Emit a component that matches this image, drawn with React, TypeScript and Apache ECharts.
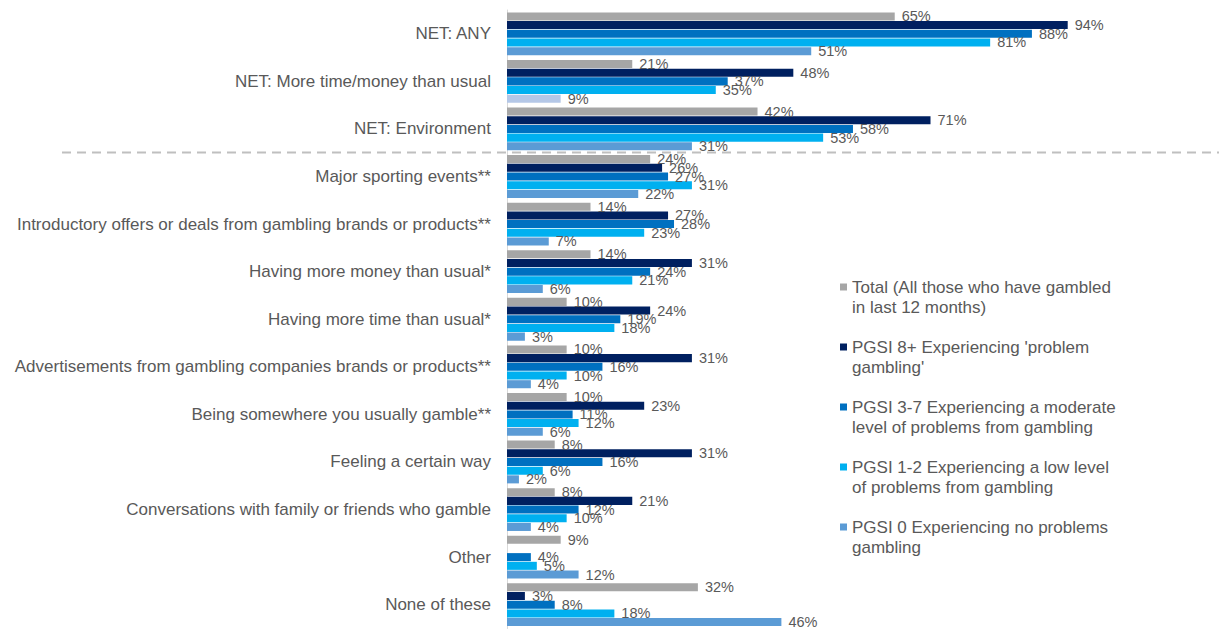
import React, { useEffect, useRef } from "react";
import * as echarts from "echarts";

const categories = [
  "NET: ANY",
  "NET: More time/money than usual",
  "NET: Environment",
  "Major sporting events**",
  "Introductory offers or deals from gambling brands or products**",
  "Having more money than usual*",
  "Having more time than usual*",
  "Advertisements from gambling companies brands or products**",
  "Being somewhere you usually gamble**",
  "Feeling a certain way",
  "Conversations with family or friends who gamble",
  "Other",
  "None of these",
];

const seriesNames = [
  "Total (All those who have gambled in last 12 months)",
  "PGSI 8+ Experiencing 'problem gambling'",
  "PGSI 3-7 Experiencing a moderate level of problems from gambling",
  "PGSI 1-2 Experiencing a low level of problems from gambling",
  "PGSI 0 Experiencing no problems gambling",
];

const legendLines = [
  "Total (All those who have gambled\nin last 12 months)",
  "PGSI 8+ Experiencing 'problem\ngambling'",
  "PGSI 3-7 Experiencing a moderate\nlevel of problems from gambling",
  "PGSI 1-2 Experiencing a low level\nof problems from gambling",
  "PGSI 0 Experiencing no problems\ngambling",
];

const totalValues = [65, 21, 42, 24, 14, 14, 10, 10, 10, 8, 8, 9, 32];
const pgsi8Values = [94, 48, 71, 26, 27, 31, 24, 31, 23, 31, 21, null, 3];
const pgsi37Values = [88, 37, 58, 27, 28, 24, 19, 16, 11, 16, 12, 4, 8];
const pgsi12Values = [81, 35, 53, 31, 23, 21, 18, 10, 12, 6, 10, 5, 18];
const pgsi0Values = [51, 9, 31, 22, 7, 6, 3, 4, 6, 2, 4, 12, 46];

const seriesColors = ["#a6a6a6", "#002060", "#0070c0", "#00b0f0", "#5b9bd5"];
const highlightIndex = 1; // PGSI 0 bar drawn lighter in "NET: More time/money than usual"
const highlightColor = "#b4c7e7";

const FONT = "'Liberation Sans', Arial, sans-serif";

export default function App() {
  const ref = useRef<HTMLDivElement>(null);

  useEffect(() => {
    if (!ref.current) return;
    const chart = echarts.init(ref.current, undefined, { renderer: "svg" });
    const allValues = [totalValues, pgsi8Values, pgsi37Values, pgsi12Values, pgsi0Values];

    const series = allValues.map((vals, si) => ({
      name: seriesNames[si],
      type: "bar",
      data: vals.map((v, ci) =>
        si === 4 && ci === highlightIndex
          ? { value: v, itemStyle: { color: highlightColor } }
          : v
      ),
      itemStyle: { color: seriesColors[si] },
      barCategoryGap: "10%",
      barGap: "8%",
      label: {
        show: true,
        position: "right",
        distance: 7,
        color: "#595959",
        fontSize: 14.5,
        fontFamily: FONT,
        formatter: (p: any) => (p.value == null ? "" : p.value + "%"),
      },
    }));

    chart.setOption({
      animation: false,
      backgroundColor: "#ffffff",
      grid: { left: 507, top: 10, width: 596.5, height: 618.5 },
      xAxis: {
        type: "value",
        min: 0,
        max: 100,
        show: false,
      },
      yAxis: {
        type: "category",
        inverse: true,
        data: categories,
        axisTick: { show: false },
        axisLine: { show: true, lineStyle: { color: "#d9d9d9", width: 1 } },
        axisLabel: {
          color: "#595959",
          fontSize: 17,
          fontFamily: FONT,
          margin: 16,
        },
      },
      legend: {
        orient: "vertical",
        left: 835,
        top: 252,
        itemGap: 0,
        itemWidth: 7,
        itemHeight: 7,
        icon: "rect",
        selectedMode: false,
        data: seriesNames,
        formatter: (name: string) => "\n" + legendLines[seriesNames.indexOf(name)],
        textStyle: {
          color: "#595959",
          fontSize: 17,
          fontFamily: FONT,
          lineHeight: 20,
        },
      },
      graphic: [
        {
          type: "line",
          shape: { x1: 62, y1: 152.5, x2: 1219, y2: 152.5 },
          style: { stroke: "#bfbfbf", lineWidth: 2, lineDash: [9, 6] },
          z: 10,
        },
      ],
      series,
    });

    return () => chart.dispose();
  }, []);

  return (
    <div
      ref={ref}
      style={{ position: "absolute", left: 0, top: 0, width: 1219, height: 630 }}
    />
  );
}
